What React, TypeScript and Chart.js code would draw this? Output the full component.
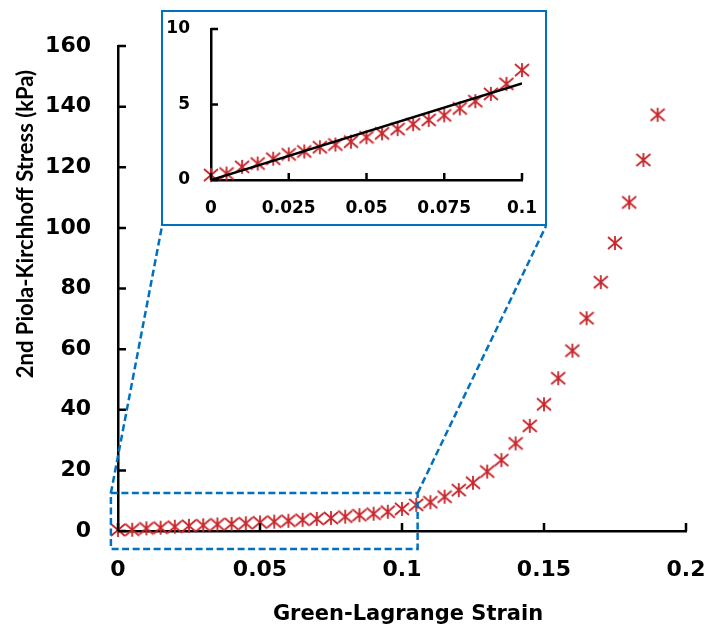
import React, { useEffect, useRef } from 'react';
import { Chart, registerables } from 'chart.js';
Chart.register(...registerables);

// ---- data ----
const strain = [
  0, 0.005, 0.01, 0.015, 0.02, 0.025, 0.03, 0.035, 0.04, 0.045,
  0.05, 0.055, 0.06, 0.065, 0.07, 0.075, 0.08, 0.085, 0.09, 0.095,
  0.1, 0.105, 0.11, 0.115, 0.12, 0.125, 0.13, 0.135, 0.14, 0.145,
  0.15, 0.155, 0.16, 0.165, 0.17, 0.175, 0.18, 0.185, 0.19,
];
const stress = [
  0.33, 0.43, 0.87, 1.09, 1.41, 1.7, 1.89, 2.17, 2.35, 2.54,
  2.83, 3.09, 3.37, 3.7, 3.98, 4.28, 4.74, 5.22, 5.7, 6.37,
  7.28, 8.6, 9.5, 11.3, 13.5, 15.9, 19.6, 23.4, 28.9, 34.7,
  41.8, 50.4, 59.5, 70.2, 82.1, 95.0, 108.4, 122.4, 137.3,
];
const fitStrain = [0, 0.1];
const fitStress = [0, 6.4];
const insetMaxStrain = 0.1;
const zoomBoxStrain = [-0.0025, 0.1055];
const zoomBoxStress = [-5.9, 12.5];

const xTitle = 'Green-Lagrange Strain';
const yTitle = '2nd Piola-Kirchhoff Stress (kPa)';

const RED = '#C8262B';
const BLUE = '#0070C0';
const WIDE = '"DejaVu Sans", sans-serif';
const NARROW = 'Lato, "Open Sans", sans-serif';

function makeStar(size: number, color: string, lw: number) {
  const c = document.createElement('canvas');
  c.width = size;
  c.height = size;
  const ctx = c.getContext('2d')!;
  ctx.strokeStyle = color;
  ctx.lineWidth = lw;
  const m = 1;
  const s = size;
  ctx.beginPath();
  ctx.moveTo(m, m + 1);
  ctx.lineTo(s - m, s - m - 1);
  ctx.moveTo(s - m, m + 1);
  ctx.lineTo(m, s - m - 1);
  ctx.moveTo(s / 2, m);
  ctx.lineTo(s / 2, s - m);
  ctx.stroke();
  return c;
}

const fmt = (v: number) => String(Number(v.toFixed(4)));

const innerTicks = {
  id: 'innerTicks',
  afterDraw(chart: any, _a: any, opts: any) {
    const ctx = chart.ctx;
    const xs = chart.scales.x;
    const ys = chart.scales.y;
    const { left, bottom } = chart.chartArea;
    ctx.save();
    ctx.strokeStyle = '#000';
    ctx.lineWidth = opts.width;
    ctx.beginPath();
    xs.ticks.forEach((t: any) => {
      const px = xs.getPixelForValue(t.value);
      ctx.moveTo(px, bottom);
      ctx.lineTo(px, bottom - opts.len);
    });
    ys.ticks.forEach((t: any) => {
      const py = ys.getPixelForValue(t.value);
      ctx.moveTo(left, py);
      ctx.lineTo(left + opts.len, py);
    });
    ctx.stroke();
    ctx.restore();
  },
};

const zoomOverlay = {
  id: 'zoomOverlay',
  afterDatasetsDraw(chart: any) {
    const ctx = chart.ctx;
    const xs = chart.scales.x;
    const ys = chart.scales.y;
    const x0 = xs.getPixelForValue(zoomBoxStrain[0]);
    const x1 = xs.getPixelForValue(zoomBoxStrain[1]);
    const y0 = ys.getPixelForValue(zoomBoxStress[1]);
    const y1 = ys.getPixelForValue(zoomBoxStress[0]);
    ctx.save();
    ctx.strokeStyle = BLUE;
    ctx.lineWidth = 2.5;
    ctx.setLineDash([7, 3.5]);
    ctx.strokeRect(x0, y0, x1 - x0, y1 - y0);
    ctx.beginPath();
    ctx.moveTo(x0, y0);
    ctx.lineTo(162, 226);
    ctx.moveTo(x1, y0);
    ctx.lineTo(546, 226);
    ctx.stroke();
    ctx.restore();
  },
};

const titles = {
  id: 'titles',
  afterDraw(chart: any) {
    const ctx = chart.ctx;
    ctx.save();
    ctx.fillStyle = '#000';
    ctx.textAlign = 'center';
    ctx.textBaseline = 'alphabetic';
    ctx.font = `bold 21px ${WIDE}`;
    ctx.fillText(xTitle, 408, 620);
    ctx.font = `bold 22px ${NARROW}`;
    ctx.textBaseline = 'middle';
    ctx.translate(26, 224);
    ctx.rotate(-Math.PI / 2);
    ctx.fillText(yTitle, 0, 0);
    ctx.restore();
  },
};

const fitX = (h: number) => (s: any) => {
  s.height = h;
  s.paddingLeft = 0;
  s.paddingRight = 0;
};
const fitY = (w: number) => (s: any) => {
  s.width = w;
  s.paddingTop = 0;
  s.paddingBottom = 0;
};

export default function App() {
  const mainRef = useRef<HTMLCanvasElement>(null);
  const insetRef = useRef<HTMLCanvasElement>(null);

  useEffect(() => {
    const star = makeStar(16, RED, 1.8);
    const pts = strain.map((x, i) => ({ x, y: stress[i] }));
    const insetPts = pts.filter((p) => p.x <= insetMaxStrain + 1e-9);
    const fitPts = fitStrain.map((x, i) => ({ x, y: fitStress[i] }));

    const tickFont = { family: WIDE, size: 22, weight: 'bold' as const };
    const main = new Chart(mainRef.current!, {
      type: 'scatter',
      data: {
        datasets: [
          {
            data: pts,
            pointStyle: star as any,
            pointRadius: 8,
            clip: false as any,
          },
        ],
      },
      plugins: [innerTicks, zoomOverlay, titles],
      options: {
        animation: false,
        responsive: false,
        events: [],
        layout: { padding: { left: 8, right: 28, top: 46, bottom: 20 } },
        plugins: {
          legend: { display: false },
          tooltip: { enabled: false },
          innerTicks: { len: 8, width: 2.5 },
        } as any,
        scales: {
          x: {
            type: 'linear',
            min: 0,
            max: 0.2,
            afterFit: fitX(75),
            grid: { display: true, drawOnChartArea: false, drawTicks: false },
            border: { display: true, color: '#000', width: 2.5 },
            ticks: {
              stepSize: 0.05, color: '#000', font: tickFont, padding: 26,
              maxRotation: 0, minRotation: 0, autoSkip: false,
              callback: (v: any) => fmt(v),
            },
          },
          y: {
            type: 'linear',
            min: 0,
            max: 160,
            afterFit: fitY(110),
            grid: { display: true, drawOnChartArea: false, drawTicks: false },
            border: { display: true, color: '#000', width: 2.5 },
            ticks: { stepSize: 20, color: '#000', font: tickFont, padding: 27, autoSkip: false },
          },
        },
      },
    });

    const insetFont = { family: WIDE, size: 17, weight: 'bold' as const };
    const inset = new Chart(insetRef.current!, {
      type: 'scatter',
      data: {
        datasets: [
          {
            type: 'line' as any,
            data: fitPts,
            borderColor: '#000',
            borderWidth: 2.5,
            pointRadius: 0,
            fill: false,
            order: 0,
          },
          {
            data: insetPts,
            pointStyle: star as any,
            pointRadius: 8,
            clip: false as any,
            order: 1,
          },
        ],
      },
      plugins: [innerTicks],
      options: {
        animation: false,
        responsive: false,
        events: [],
        layout: { padding: { left: 0, right: 23, top: 17, bottom: 0 } },
        plugins: {
          legend: { display: false },
          tooltip: { enabled: false },
          innerTicks: { len: 7, width: 2.5 },
        } as any,
        scales: {
          x: {
            type: 'linear',
            min: 0,
            max: 0.1,
            afterFit: fitX(44),
            grid: { display: true, drawOnChartArea: false, drawTicks: false },
            border: { display: true, color: '#000', width: 2.5 },
            ticks: {
              stepSize: 0.025, color: '#000', font: insetFont, padding: 18,
              maxRotation: 0, minRotation: 0, autoSkip: false,
              callback: (v: any) => fmt(v),
            },
          },
          y: {
            type: 'linear',
            min: 0,
            max: 10,
            afterFit: fitY(48),
            grid: { display: true, drawOnChartArea: false, drawTicks: false },
            border: { display: true, color: '#000', width: 2.5 },
            ticks: { stepSize: 5, color: '#000', font: insetFont, padding: 21, autoSkip: false },
          },
        },
      },
    });

    return () => {
      main.destroy();
      inset.destroy();
    };
  }, []);

  return (
    <div style={{ position: 'absolute', left: 0, top: 0, width: 714, height: 626, background: '#fff' }}>
      <canvas ref={mainRef} width={714} height={626} style={{ position: 'absolute', left: 0, top: 0 }} />
      <div
        style={{
          position: 'absolute',
          left: 161,
          top: 10,
          width: 386,
          height: 216,
          border: `2px solid ${BLUE}`,
          boxSizing: 'border-box',
          background: '#fff',
        }}
      >
        <canvas ref={insetRef} width={382} height={212} style={{ display: 'block' }} />
      </div>
    </div>
  );
}
